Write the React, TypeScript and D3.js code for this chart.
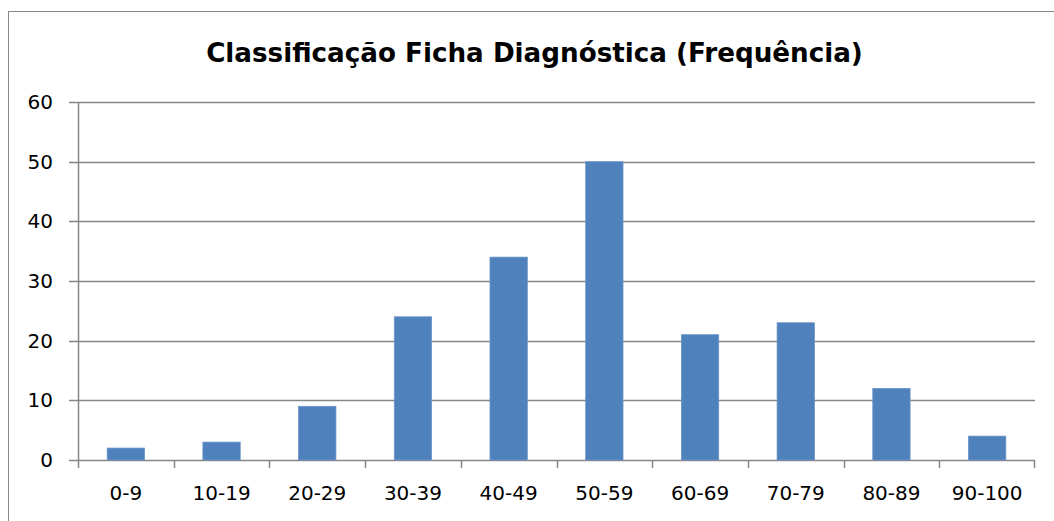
import React from "react";
import * as d3 from "d3";

const categories = ["0-9", "10-19", "20-29", "30-39", "40-49", "50-59", "60-69", "70-79", "80-89", "90-100"];
const values = [2, 3, 9, 24, 34, 50, 21, 23, 12, 4];
const yTicks = [0, 10, 20, 30, 40, 50, 60];
const title = "Classificação Ficha Diagnóstica (Frequência)";

export default function App() {
  const W = 1054, H = 521;
  const left = 78, right = 1035, top = 102, bottom = 460;
  const x = d3.scaleBand<string>().domain(categories).range([left, right]).paddingInner(0.61).paddingOuter(0.305);
  const xb = d3.scaleBand<string>().domain(categories).range([left, right]);
  const y = d3.scaleLinear().domain([0, 60]).range([bottom, top]);
  const font = "DejaVu Sans, sans-serif";
  const grid = "#868686";
  return (
    <svg width={W} height={H} style={{ position: "fixed", left: 0, top: 0, background: "#fff" }} fontFamily={font}>
      <rect x={8.5} y={11.5} width={1100} height={600} fill="#fff" stroke="#878787" strokeWidth={1} />
      <text x={534.5} y={62} textAnchor="middle" fontWeight="bold" fontSize={26.2} fill="#000">{title}</text>
      {yTicks.map(t => (
        <g key={t}>
          <line x1={69} x2={right} y1={Math.round(y(t)) + 0.5} y2={Math.round(y(t)) + 0.5} stroke={grid} strokeWidth={1.5} />
          <text x={53} y={y(t) + 7} textAnchor="end" fontSize={20} fill="#000">{t}</text>
        </g>
      ))}
      <line x1={left + 0.5} x2={left + 0.5} y1={top} y2={bottom} stroke={grid} strokeWidth={1.5} />
      {categories.map((c, i) => (
        <line key={"t" + i} x1={Math.round(xb(c)!) + 0.5} x2={Math.round(xb(c)!) + 0.5} y1={bottom} y2={bottom + 8} stroke={grid} strokeWidth={1.5} />
      ))}
      <line x1={right - 0.5} x2={right - 0.5} y1={bottom} y2={bottom + 8} stroke={grid} strokeWidth={1.5} />
      {categories.map((c, i) => (
        <rect key={c} x={x(c)!} y={y(values[i])} width={x.bandwidth()} height={bottom - y(values[i])} fill="#4F81BD" stroke="#6b95c8" strokeWidth={0.8} />
      ))}
      {categories.map(c => (
        <text key={"l" + c} x={xb(c)! + xb.bandwidth() / 2} y={500} textAnchor="middle" fontSize={20} fill="#000">{c}</text>
      ))}
    </svg>
  );
}
